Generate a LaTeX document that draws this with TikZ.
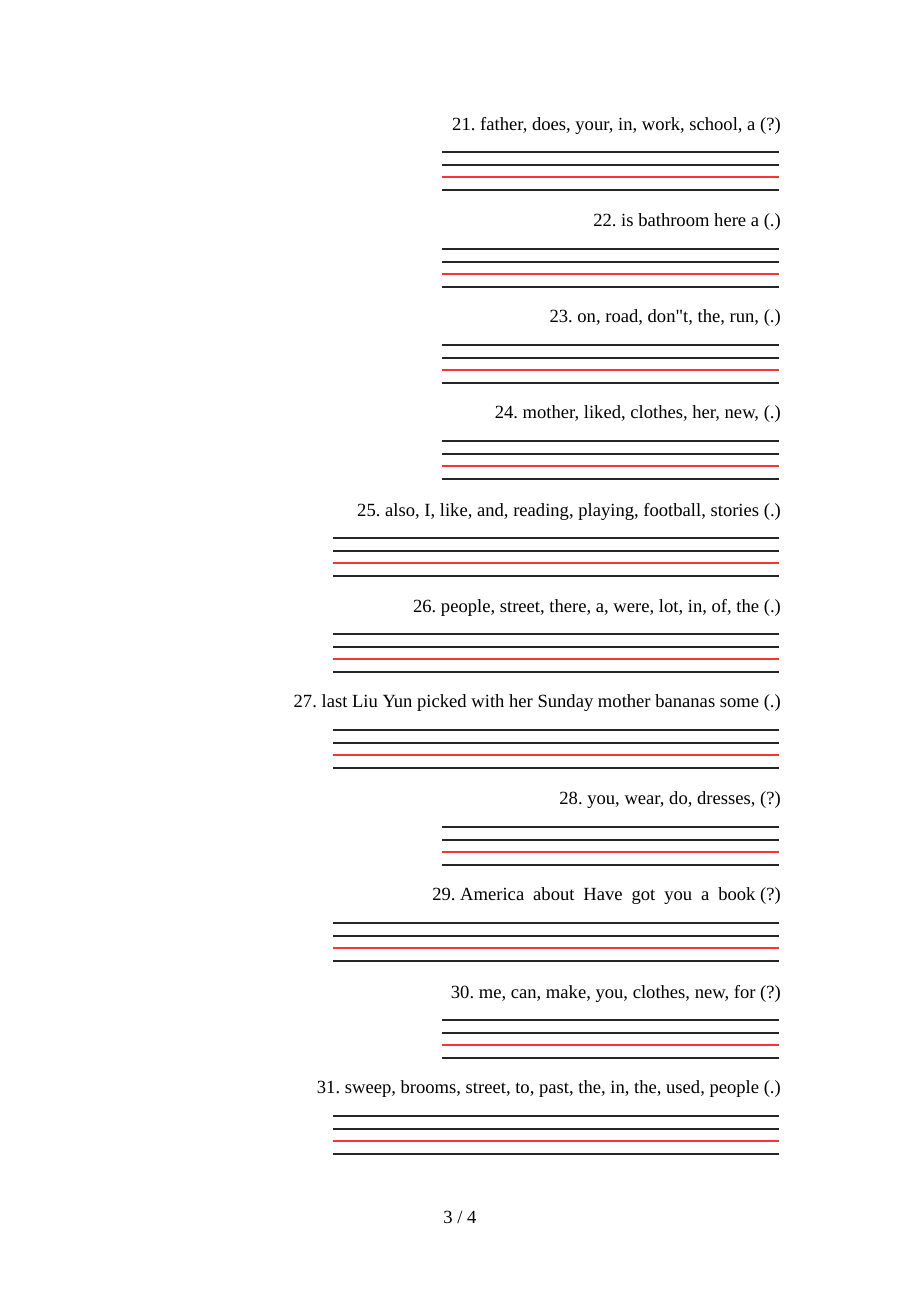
\documentclass[tikz,border=0pt]{standalone}
\usepackage{fontspec}
\setmainfont{Liberation Serif}[Ligatures=TeXOff]
\frenchspacing
\begin{document}
\begin{tikzpicture}[x=1pt,y=-1pt,
  qtext/.style={anchor=east,inner sep=0pt,font=\fontsize{18.6}{21}\selectfont},
  blk/.style={draw=black!85,line width=1.2pt},
  redl/.style={draw=red!80,line width=1.2pt}]
\useasboundingbox (0,0) rectangle (920,1302);
\fill[white] (0,0) rectangle (920,1302);
\newcommand{\qitem}[4]{% #1 name, #2 y center, #3 left x, #4 text
  \node[qtext] (#1) at (781,#2+1.5) {#4};
  \coordinate (#1a) at (#3,#2+28); \coordinate (#1b) at (779,#2+28);
  \coordinate (#1c) at (#3,#2+41); \coordinate (#1d) at (779,#2+41);
  \coordinate (#1e) at (#3,#2+53); \coordinate (#1f) at (779,#2+53);
  \coordinate (#1g) at (#3,#2+66); \coordinate (#1h) at (779,#2+66);
  \draw[blk] (#1a) -- (#1b);
  \draw[blk] (#1c) -- (#1d);
  \draw[redl] (#1e) -- (#1f);
  \draw[blk] (#1g) -- (#1h);
}
\qitem{q21}{124}{442}{21. father, does, your, in, work, school, a (?)}
\qitem{q22}{221}{442}{22. is bathroom here a (.)}
\qitem{q23}{317}{442}{23. on, road, don"t, the, run, (.)}
\qitem{q24}{413}{442}{24. mother, liked, clothes, her, new, (.)}
\qitem{q25}{510}{333}{25. also, I, like, and, reading, playing, football, stories (.)}
\qitem{q26}{606}{333}{26. people, street, there, a, were, lot, in, of, the (.)}
\qitem{q27}{702}{333}{27. last Liu Yun picked with her Sunday mother bananas some (.)}
\qitem{q28}{799}{442}{28. you, wear, do, dresses, (?)}
\qitem{q29}{895}{333}{29.~America\hspace{0.48em}about\hspace{0.48em}Have\hspace{0.48em}got\hspace{0.48em}you\hspace{0.48em}a\hspace{0.48em}book~(?)}
\qitem{q30}{992}{442}{30. me, can, make, you, clothes, new, for (?)}
\qitem{q31}{1088}{333}{31. sweep, brooms, street, to, past, the, in, the, used, people (.)}
\node[inner sep=0pt,font=\fontsize{18.6}{21}\selectfont] (pg) at (460,1217) {3 / 4};
\end{tikzpicture}
\end{document}
